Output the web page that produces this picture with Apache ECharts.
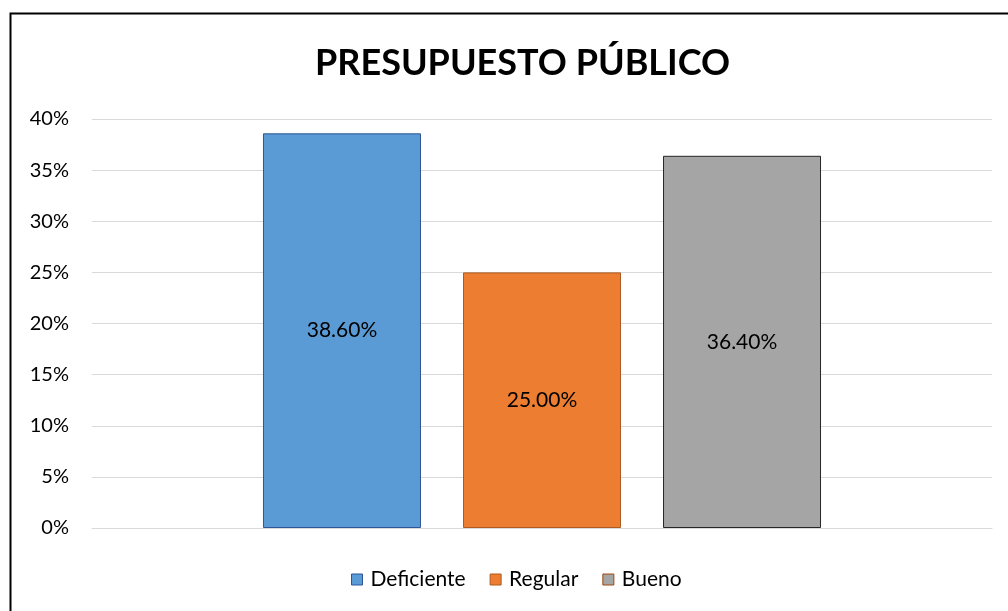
<!DOCTYPE html>
<html>
<head>
<meta charset="utf-8">
<script src="https://cdn.jsdelivr.net/npm/echarts@6/dist/echarts.min.js"></script>
<style>
html,body{margin:0;padding:0;background:#fff;}
#c{width:1008px;height:611px;}
</style>
</head>
<body>
<div id="c"></div>
<script>
var titleText = 'PRESUPUESTO PÚBLICO';
var categories = [''];
var seriesNames = ['Deficiente', 'Regular', 'Bueno'];
var seriesValues = [0.386, 0.25, 0.364];
var yTicks = [0, 0.05, 0.10, 0.15, 0.20, 0.25, 0.30, 0.35, 0.40];

var fills = ['#5B9BD5', '#ED7D31', '#A5A5A5'];
var borders = ['#2F5597', '#AE5A21', '#262626'];
var legendBorders = ['#2F5597', '#AE5A21', '#9E480E'];
var FONT = 'Lato, "Open Sans", sans-serif';

var chart = echarts.init(document.getElementById('c'), null, {renderer: 'canvas'});

var series = seriesNames.map(function (name, i) {
  return {
    name: name,
    type: 'bar',
    data: [seriesValues[i]],
    barWidth: 158,
    barGap: '26.6%',
    itemStyle: {color: fills[i], borderColor: borders[i], borderWidth: 1},
    label: {
      show: true,
      position: 'inside',
      color: '#000',
      fontFamily: FONT,
      fontSize: 21,
      formatter: function (p) { return (p.value * 100).toFixed(2) + '%'; }
    },
    emphasis: {disabled: true}
  };
});

chart.setOption({
  animation: false,
  backgroundColor: '#fff',
  title: {
    text: titleText,
    left: 310,
    top: 40,
    textStyle: {fontFamily: FONT, fontWeight: 'bold', fontSize: 36, color: '#000'}
  },
  legend: {
    bottom: 16,
    left: 346,
    itemWidth: 11,
    itemHeight: 11,
    itemGap: 24,
    textStyle: {fontFamily: FONT, fontSize: 21, color: '#000', padding: [0, 0, 0, 3]},
    data: seriesNames.map(function (n, i) {
      return {name: n, icon: 'rect', itemStyle: {color: fills[i], borderColor: legendBorders[i], borderWidth: 1}};
    })
  },
  grid: {left: 92, right: 16, top: 119, bottom: 83, containLabel: false},
  xAxis: {
    type: 'category',
    data: categories,
    axisLine: {show: true, lineStyle: {color: '#d9d9d9', width: 1}},
    axisTick: {show: false},
    axisLabel: {show: false}
  },
  yAxis: {
    type: 'value',
    min: yTicks[0],
    max: yTicks[yTicks.length - 1],
    interval: 0.05,
    axisLine: {show: false},
    axisTick: {show: false},
    splitLine: {lineStyle: {color: '#d9d9d9', width: 1}},
    axisLabel: {
      fontFamily: FONT, fontSize: 20, color: '#000', margin: 23,
      formatter: function (v) { return Math.round(v * 100) + '%'; }
    }
  },
  graphic: [{
    type: 'rect',
    silent: true,
    shape: {x: 10.5, y: 13.5, width: 1100, height: 700},
    style: {fill: 'none', stroke: '#000', lineWidth: 2}
  }],
  series: series
});
</script>
</body>
</html>
